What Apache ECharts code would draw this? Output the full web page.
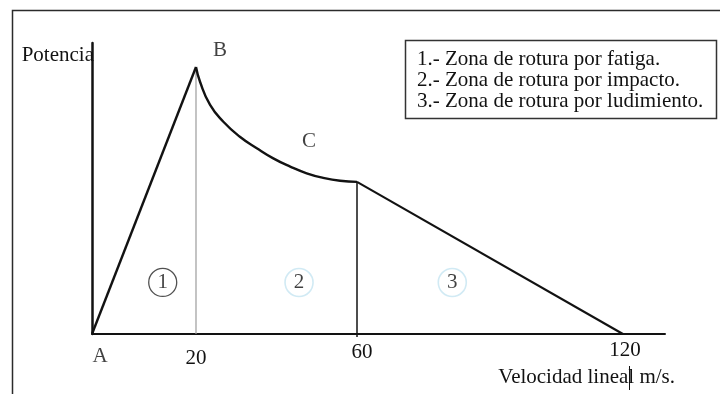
<!DOCTYPE html>
<html>
<head>
<meta charset="utf-8">
<script src="https://cdn.jsdelivr.net/npm/echarts@6/dist/echarts.min.js"></script>
<style>
  html, body { margin: 0; padding: 0; background: #fff; }
  #chart { width: 720px; height: 394px; }
</style>
</head>
<body>
<div id="chart"></div>
<script>
// Power against linear speed, split into the three failure zones.
const speedTicks = [20, 60, 120];
const speedAxisEnd = 129.5;
const powerAxisMax = 109;

const pointA = [0, 0];
const pointB = [20, 100];
const pointC = [60, 57];
const pointEnd = [120, 0];
// falling branch from B to C
const impactCurve = [
  [20, 100], [21, 94.5], [23.5, 85.8], [26.8, 79.5], [30.9, 73.9], [35.1, 69.6],
  [39.2, 65.8], [43.4, 62.7], [47.5, 60.2], [51.6, 58.5], [55.8, 57.4], [60, 57]
];

const zoneNumbers = ['1', '2', '3'];
const zoneCenters = [[13.6, 19.3], [45.6, 19.3], [81.5, 19.3]];
const zoneNotes = [
  '1.- Zona de rotura por fatiga.',
  '2.- Zona de rotura por impacto.',
  '3.- Zona de rotura por ludimiento.'
];
const yTitle = 'Potencia';
const xTitle = 'Velocidad lineal m/s.';

const SERIF = '"Liberation Serif", "Times New Roman", serif';
const INK = '#121212';

// Each speed interval gets its own horizontal scale, so the three panels sit side by side.
const gridTop = 43, gridHeight = 291;
const grids = [
  { left: 92, top: gridTop, width: 104, height: gridHeight, outerBoundsMode: 'none', containLabel: false },
  { left: 196, top: gridTop, width: 161, height: gridHeight, outerBoundsMode: 'none', containLabel: false },
  { left: 357, top: gridTop, width: 308, height: gridHeight, outerBoundsMode: 'none', containLabel: false }
];
const xRanges = [[0, speedTicks[0]], [speedTicks[0], speedTicks[1]], [speedTicks[1], speedAxisEnd]];

function baseX(i) {
  return {
    type: 'value', gridIndex: i, min: xRanges[i][0], max: xRanges[i][1],
    axisLine: { show: true, onZero: true, lineStyle: { color: INK, width: 2 } },
    axisTick: { show: false }, splitLine: { show: false }, axisLabel: { show: false }
  };
}

const xAxes = [baseX(0), baseX(1), baseX(2)];
xAxes[1].axisLabel = {
  show: true, customValues: [speedTicks[0]], margin: 14,
  fontFamily: SERIF, fontSize: 21, lineHeight: 21, color: INK
};
xAxes[2].axisLabel = {
  show: true, customValues: [speedTicks[1], speedTicks[2]], margin: 6,
  fontFamily: SERIF, fontSize: 21, lineHeight: 21, color: INK,
  formatter: v => (v === speedTicks[1] ? '{a|' + v + '}' : '{b|' + v + '}'),
  rich: {
    a: { padding: [4, 0, 0, 10], fontFamily: SERIF, fontSize: 21, color: INK },
    b: { padding: [0, 0, 0, 4], fontFamily: SERIF, fontSize: 21, color: INK }
  }
};
xAxes[2].axisTick = { show: true, customValues: [speedTicks[1]], length: 3, lineStyle: { color: INK, width: 1.5 } };

function baseY(i) {
  return {
    type: 'value', gridIndex: i, min: 0, max: powerAxisMax,
    axisLine: { show: false }, axisTick: { show: false },
    splitLine: { show: false }, axisLabel: { show: false }
  };
}
const yAxes = [baseY(0), baseY(1), baseY(2)];
yAxes[0].axisLine = { show: true, lineStyle: { color: INK, width: 2.5 } };
yAxes[0].name = yTitle;
yAxes[0].nameLocation = 'end';
yAxes[0].nameGap = -12.5;
yAxes[0].nameTextStyle = {
  fontFamily: SERIF, fontSize: 21, color: INK,
  align: 'right', verticalAlign: 'middle', padding: [0, -2, 0, 0]
};

function curve(i, data, color, width, extra) {
  return Object.assign({
    type: 'line', xAxisIndex: i, yAxisIndex: i, data: data,
    symbol: 'none', silent: true, z: 3,
    lineStyle: { color: color, width: width }
  }, extra || {});
}

const letterLabel = { show: true, position: 'inside', fontFamily: SERIF, fontSize: 21, color: INK };
function namedPoint(value, text, offset) {
  return { value: value, label: Object.assign({}, letterLabel, { formatter: text, offset: offset }) };
}

function zoneMark(i, border, width) {
  return {
    type: 'scatter', xAxisIndex: i, yAxisIndex: i, silent: true, z: 4,
    symbol: 'circle', symbolSize: 28,
    itemStyle: { color: '#fff', borderColor: border, borderWidth: width },
    label: {
      show: true, position: 'inside', formatter: zoneNumbers[i],
      fontFamily: SERIF, fontSize: 21, color: '#111'
    },
    data: [zoneCenters[i]]
  };
}

const hidden = { color: 'rgba(0,0,0,0)' };

const option = {
  animation: false,
  backgroundColor: '#fff',
  grid: grids,
  xAxis: xAxes,
  yAxis: yAxes,
  series: [
    curve(0, [pointA, pointB], INK, 2.4),
    curve(1, [[pointB[0], 0], pointB], '#9c9c9c', 1.2, { z: 2 }),
    curve(1, impactCurve, INK, 2.4, { smooth: 0.5 }),
    curve(2, [[pointC[0], 0], pointC], INK, 1.5, { z: 2 }),
    curve(2, [pointC, pointEnd], INK, 2.1),
    {
      type: 'scatter', xAxisIndex: 0, yAxisIndex: 0, silent: true, clip: false,
      symbolSize: 1, itemStyle: hidden,
      data: [namedPoint(pointA, 'A', [8, 22]), namedPoint(pointB, 'B', [24, -17])]
    },
    {
      type: 'scatter', xAxisIndex: 2, yAxisIndex: 2, silent: true, clip: false,
      symbolSize: 1, itemStyle: hidden,
      data: [namedPoint(pointC, 'C', [-48, -40])]
    },
    zoneMark(0, '#262626', 1.3),
    zoneMark(1, '#c6e5f1', 1.6),
    zoneMark(2, '#c6e5f1', 1.6)
  ],
  graphic: [
    {
      type: 'polyline', silent: true,
      shape: { points: [[12.5, 394], [12.5, 10.5], [720, 10.5]] },
      style: { stroke: '#2b2b2b', lineWidth: 1.5, fill: null }
    },
    {
      type: 'rect', silent: true,
      shape: { x: 405.5, y: 40.5, width: 311, height: 78 },
      style: { stroke: '#333', lineWidth: 1.5, fill: '#fff' }
    },
    {
      type: 'text', silent: true, x: 417, y: 49.6,
      style: {
        text: zoneNotes.join('\n'), fill: INK,
        font: '21px ' + SERIF, lineHeight: 20.7, verticalAlign: 'top'
      }
    },
    {
      // speed axis title, under the right end of the axis
      type: 'text', silent: true, x: 675, y: 377,
      style: {
        text: xTitle, fill: INK, font: '21px ' + SERIF,
        align: 'right', verticalAlign: 'middle'
      }
    },
    {
      // caret after the speed axis title
      type: 'line', silent: true,
      shape: { x1: 629.5, y1: 366, x2: 629.5, y2: 390 },
      style: { stroke: INK, lineWidth: 1 }
    }
  ]
};

const chart = echarts.init(document.getElementById('chart'), null, { renderer: 'canvas' });
chart.setOption(option);
</script>
</body>
</html>
